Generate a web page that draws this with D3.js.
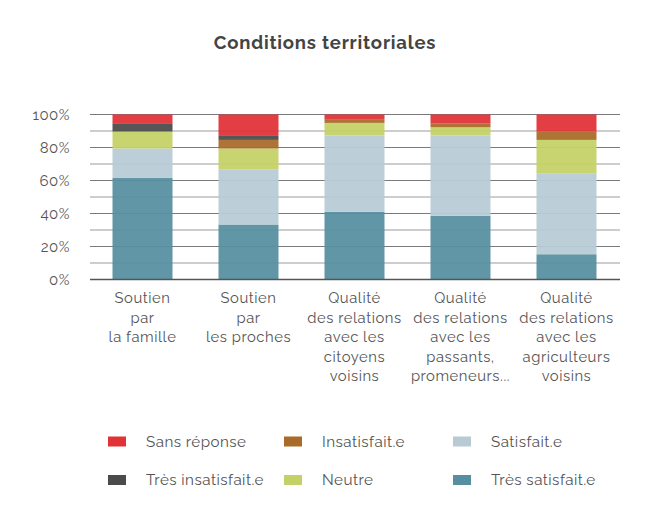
<!DOCTYPE html>
<html><head><meta charset="utf-8">
<script src="https://cdn.jsdelivr.net/npm/d3@7"></script>
<style>body{margin:0;background:#fff}svg{display:block;font-family:Raleway,Lato,"Open Sans",sans-serif}</style>
</head><body><svg id="c" width="650" height="515"></svg>
<script>
const categories = [
  ["Soutien","par","la famille"],
  ["Soutien","par","les proches"],
  ["Qualité","des relations","avec les","citoyens","voisins"],
  ["Qualité","des relations","avec les","passants,","promeneurs..."],
  ["Qualité","des relations","avec les","agriculteurs","voisins"]
];
const seriesNames = ["Très satisfait.e","Satisfait.e","Neutre","Insatisfait.e","Très insatisfait.e","Sans réponse"];
const tresSatisfait   = [61.6, 33.3, 41.0, 38.6, 15.3];
const satisfait       = [17.8, 33.5, 46.3, 48.7, 49.1];
const neutre          = [10.3, 12.6,  7.6,  5.0, 20.2];
const insatisfait     = [ 0.0,  5.2,  2.3,  2.4,  5.3];
const tresInsatisfait = [ 5.0,  2.4,  0.0,  0.0,  0.0];
const sansReponse     = [ 5.3, 13.0,  2.8,  5.3, 10.1];
const tickValues = [0,20,40,60,80,100];
const colors = {"Très satisfait.e":"#568f9f","Satisfait.e":"#b8cbd5","Neutre":"#c3d166","Insatisfait.e":"#a86b29","Très insatisfait.e":"#4b4b4b","Sans réponse":"#e03237"};
const legendOrder = ["Sans réponse","Insatisfait.e","Satisfait.e","Très insatisfait.e","Neutre","Très satisfait.e"];

const values = [tresSatisfait,satisfait,neutre,insatisfait,tresInsatisfait,sansReponse];
const rows = categories.map((c,i)=>{const r={key:i};seriesNames.forEach((s,j)=>r[s]=values[j][i]);return r;});
const stack = d3.stack().keys(seriesNames)(rows);

const svg = d3.select("#c");
const x = d3.scaleBand().domain(d3.range(categories.length)).range([89.5,619.5]).paddingInner(0.434).paddingOuter(0.217);
const y = d3.scaleLinear().domain([0,100]).range([279.5,114.5]);

svg.append("text").attr("x",325).attr("y",49).attr("text-anchor","middle")
  .attr("font-size",18.5).attr("letter-spacing",0.8).attr("font-weight","bold").attr("fill","#444").text("Conditions territoriales");

// grid
const g = svg.append("g");
d3.range(10,101,10).forEach(v=>{
  const major = v%20===0;
  g.append("line").attr("x1",90).attr("x2",620).attr("y1",y(v)).attr("y2",y(v))
    .attr("stroke",major?"#7a7a7a":"#bdbdbd").attr("stroke-width",major?1:1.6);
});

// bars
svg.append("g").selectAll("g").data(stack).join("g").attr("fill",d=>colors[d.key])
  .selectAll("rect").data(d=>d).join("rect")
  .attr("x",(d,i)=>x(i)).attr("width",x.bandwidth())
  .attr("y",d=>y(d[1])).attr("height",d=>y(d[0])-y(d[1]))
  .attr("fill-opacity",0.94);

// baseline
svg.append("line").attr("x1",90).attr("x2",620).attr("y1",y(0)).attr("y2",y(0)).attr("stroke","#555").attr("stroke-width",1.5);

// y axis labels
const yAxis = d3.axisLeft(y).tickValues(tickValues).tickFormat(d=>d+"%").tickSize(0).tickPadding(0);
const ya = svg.append("g").attr("transform","translate(70,0)").call(yAxis);
ya.select(".domain").remove();
ya.selectAll("text").attr("font-size",15).attr("letter-spacing",0.5).attr("fill","#555").attr("font-family","Raleway,Lato,sans-serif");

// x labels
const xl = svg.append("g");
categories.forEach((lines,i)=>{
  const t = xl.append("text").attr("text-anchor","middle").attr("font-size",14.8).attr("letter-spacing",0.55).attr("fill","#555");
  lines.forEach((l,k)=>t.append("tspan").attr("x",x(i)+x.bandwidth()/2).attr("y",303+k*19.5).text(l));
});

// legend
const lx = [108,284,453], ly = [441.5,480];
legendOrder.forEach((s,i)=>{
  const col=i%3,row=Math.floor(i/3);
  svg.append("rect").attr("x",lx[col]).attr("y",ly[row]-5).attr("width",18).attr("height",10).attr("fill",colors[s]);
  svg.append("text").attr("x",lx[col]+38).attr("y",ly[row]+5).attr("font-size",15.2).attr("letter-spacing",0.45).attr("fill","#555").text(s);
});
</script></body></html>
